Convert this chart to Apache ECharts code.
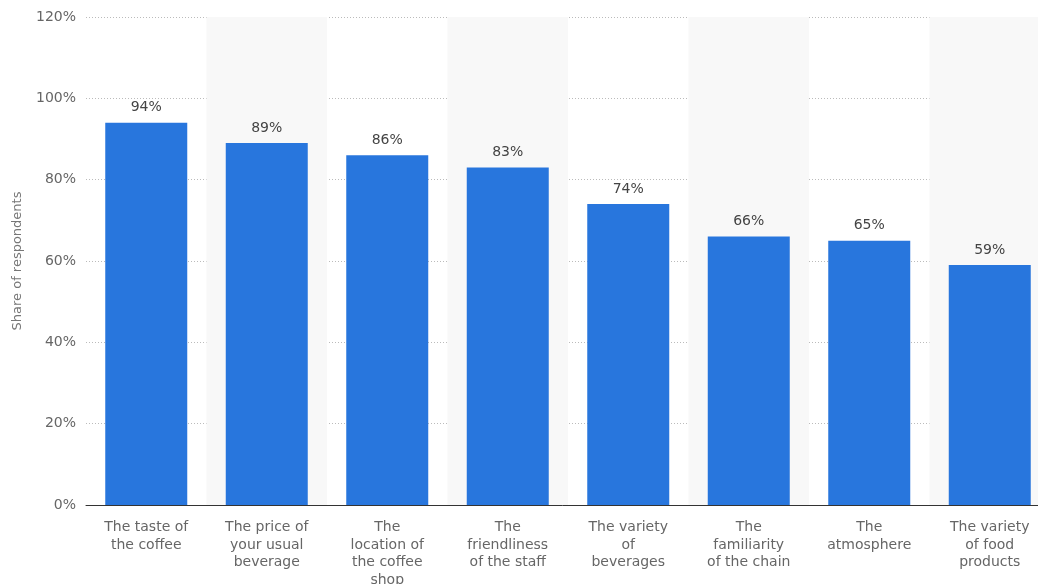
<!DOCTYPE html>
<html><head><meta charset="utf-8">
<script src="https://cdn.jsdelivr.net/npm/echarts@6/dist/echarts.min.js"></script>
<style>html,body{margin:0;padding:0;background:#fff}#c{width:1038px;height:584px}</style>
</head><body><div id="c"></div>
<script>
var categories = ["The taste of\nthe coffee","The price of\nyour usual\nbeverage","The\nlocation of\nthe coffee\nshop","The\nfriendliness\nof the staff","The variety\nof\nbeverages","The\nfamiliarity\nof the chain","The\natmosphere","The variety\nof food\nproducts"];
var values = [94, 89, 86, 83, 74, 66, 65, 59];
var yTicks = [0, 20, 40, 60, 80, 100, 120];

var chart = echarts.init(document.getElementById('c'));
chart.setOption({
  animation: false,
  grid: {left: 86, top: 17, bottom: 79, width: 964, outerBoundsMode: 'none', containLabel: false},
  xAxis: {
    type: 'category', data: categories,
    axisLine: {lineStyle: {color: '#333', width: 1}},
    axisTick: {show: false},
    axisLabel: {interval: 0, color: '#666', fontFamily: 'DejaVu Sans', fontSize: 14, lineHeight: 17.5, margin: 14},
    splitArea: {show: true, interval: 0, areaStyle: {color: ['rgba(255,255,255,0)', '#f8f8f8']}}
  },
  yAxis: {
    type: 'value', min: yTicks[0], max: yTicks[yTicks.length-1], interval: 20,
    name: 'Share of respondents', nameLocation: 'middle', nameGap: 62,
    nameTextStyle: {color: '#777', fontFamily: 'DejaVu Sans', fontSize: 13},
    axisLine: {show: false}, axisTick: {show: false},
    axisLabel: {formatter: '{value}%', color: '#666', fontFamily: 'DejaVu Sans', fontSize: 14, margin: 10},
    splitLine: {lineStyle: {color: '#bbb', type: [1, 2], width: 1}}
  },
  series: [{
    type: 'bar', data: values, barWidth: 82,
    itemStyle: {color: '#2876dd'},
    label: {show: true, position: 'top', formatter: '{c}%', color: '#444', fontFamily: 'DejaVu Sans', fontSize: 14, distance: 8}
  }]
});
</script></body></html>
